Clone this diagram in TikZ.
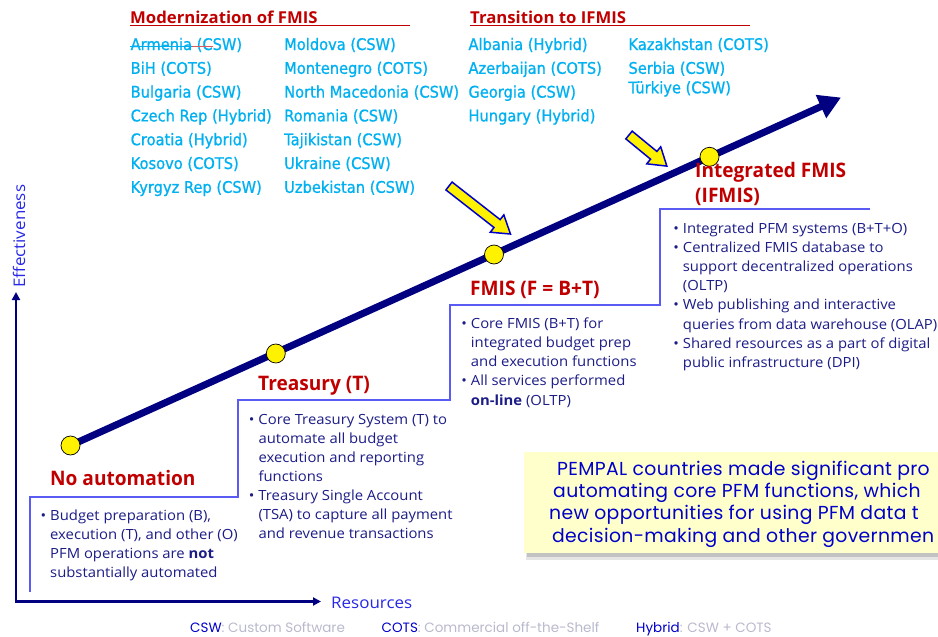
\documentclass[tikz,border=0pt]{standalone}
\usepackage{fontspec}
\setmainfont{Open Sans}[FakeStretch=1.06]
\newfontfamily\lblfont{Open Sans}[FakeStretch=0.955]
\newfontfamily\hdrfont{Open Sans}[FakeStretch=1.02]
\newfontfamily\ctryfont{DejaVu Sans}[FakeStretch=0.915,FakeBold=1]
\newfontfamily\popfont{Poppins}[LetterSpace=1.8]
\newfontfamily\legfont{Poppins}
\usetikzlibrary{arrows.meta}
\definecolor{navy}{RGB}{0,0,128}
\definecolor{bodyblue}{RGB}{28,28,135}
\definecolor{stagered}{RGB}{192,0,0}
\definecolor{ctrycyan}{RGB}{0,176,240}
\definecolor{axisblue}{RGB}{40,40,230}
\definecolor{stepblue}{RGB}{90,90,245}
\definecolor{boxblue}{RGB}{0,0,200}
\definecolor{boxfill}{RGB}{255,255,204}
\definecolor{leggrey}{RGB}{185,185,205}
\definecolor{arrowblue}{RGB}{0,0,204}
\definecolor{strikered}{RGB}{220,90,90}
\newcommand\lines[1]{\vtop{\halign{##\hfil\cr#1\crcr}}}
\newcommand\bul{\llap{\textbullet\hspace{4pt}}}
\begin{document}
\begin{tikzpicture}[x=1pt,y=-1pt,
  body/.style={inner sep=0pt, anchor=base west, text=bodyblue, font=\fontsize{14}{19.15}\selectfont},
  stagelbl/.style={inner sep=0pt, anchor=base west, text=stagered, font=\lblfont\bfseries\fontsize{20}{26}\selectfont},
  hdr/.style={inner sep=0pt, anchor=base west, text=stagered, font=\hdrfont\bfseries\fontsize{16.4}{20}\selectfont},
  ctry/.style={inner sep=0pt, anchor=base west, text=ctrycyan, font=\ctryfont\fontsize{16}{23.8}\selectfont},
  axislbl/.style={inner sep=0pt, anchor=base west, text=axisblue, font=\fontsize{16}{20}\selectfont},
  boxtxt/.style={inner sep=0pt, anchor=base west, text=boxblue, font=\popfont\fontsize{18.8}{22.4}\selectfont},
  leg/.style={inner sep=0pt, anchor=base west, font=\legfont\fontsize{13.5}{16}\selectfont},
  dot/.style={circle, fill=yellow, draw=black, line width=0.7pt, minimum size=19pt, inner sep=0pt},
  yarrow/.style={fill=yellow, draw=arrowblue, line width=1.5pt, line join=miter},
  stepline/.style={draw=stepblue, line width=1.3pt},
  axisline/.style={draw=navy, line width=2.6pt},
]
\useasboundingbox (0,0) rectangle (938,637);
\clip (0,0) rectangle (938,637);

% staircase outline of the stage boxes
\draw[stepline] (30,592) -- (30,497) -- (238,497) -- (238,400) -- (450,400)
  -- (450,305) -- (660,305) -- (660,209) -- (870,209);

% axes
\coordinate (origin) at (16,601.5);
\coordinate (ytip) at (16,292);
\coordinate (xtip) at (321,601.5);
\draw[axisline, line join=miter, {Triangle[length=8pt,width=8pt]}-{Triangle[length=8pt,width=8pt]}] (ytip) -- (origin) -- (xtip);
\node[axislbl] (resl) at (331,608) {Resources};
\node[axislbl, rotate=90] (effl) at (25,288) {Effectiveness};

% yellow message box
\fill[black!10] (525.5,454) rectangle (965,559.5);
\fill[black!24] (527,455) rectangle (965,556.5);
\fill[boxfill] (524,452) rectangle (965,553);
\node[boxtxt] (boxtext) at (549,475) {\lines{\hspace*{8pt}PEMPAL countries made significant pro\cr
  \hspace*{4pt}automating core PFM functions, which\cr
  new opportunities for using PFM data t\cr
  \hspace*{3pt}decision-making and other governmen}};

% main progress arrow
\coordinate (p1) at (70.5,445.5);
\coordinate (p2) at (275.8,353.5);
\coordinate (p3) at (494,254.5);
\coordinate (p4) at (709.5,156.8);
\coordinate (mtip) at (841,97.5);
\draw[navy, line width=7pt, -{Triangle[length=22pt,width=24pt]}] (p1) -- (mtip);
\node[dot] (d1) at (p1) {};
\node[dot] (d2) at (p2) {};
\node[dot] (d3) at (p3) {};
\node[dot] (d4) at (p4) {};

% yellow block arrows
\draw[yarrow, shift={(449,186)}, rotate=-38] (0,-5) -- (61,-5) -- (61,-11) -- (78,0) -- (61,11) -- (61,5) -- (0,5) -- cycle;
\draw[yarrow, shift={(629,135)}, rotate=-39.4] (0,-5) -- (32,-5) -- (32,-11) -- (49,0) -- (32,11) -- (32,5) -- (0,5) -- cycle;

% headers
\node[hdr] (hmod) at (130,23.3) {Modernization of FMIS};
\draw[stagered, line width=0.9pt] (130,25.6) -- (410,25.6);
\node[hdr] (htra) at (470,23.3) {Transition to IFMIS};
\draw[stagered, line width=0.9pt] (470,25.6) -- (750,25.6);

% country lists
\node[ctry] (c1) at (130.5,50) {\lines{Armenia (CSW)\cr BiH (COTS)\cr Bulgaria (CSW)\cr Czech Rep (Hybrid)\cr Croatia (Hybrid)\cr Kosovo (COTS)\cr Kyrgyz Rep (CSW)}};
\draw[ctrycyan, line width=1.1pt] (130,46.7) -- (192,46.7);
\draw[strikered, line width=1.1pt] (192,46.7) -- (213,46.7);
\node[ctry] (c2) at (284,50) {\lines{Moldova (CSW)\cr Montenegro (COTS)\cr North Macedonia (CSW)\cr Romania (CSW)\cr Tajikistan (CSW)\cr Ukraine (CSW)\cr Uzbekistan (CSW)}};
\node[ctry] (t1) at (468.3,50) {\lines{Albania (Hybrid)\cr Azerbaijan (COTS)\cr Georgia (CSW)\cr Hungary (Hybrid)}};
\node[ctry] (t2) at (628.3,50) {\lines{Kazakhstan (COTS)\cr Serbia (CSW)}};
\node[ctry] (t3) at (628.3,93.3) {Türkiye (CSW)};

% stage labels
\node[stagelbl] (s1) at (50,485) {No automation};
\node[stagelbl] (s2) at (258,390) {Treasury (T)};
\node[stagelbl] (s3) at (470,295) {FMIS (F = B+T)};
\node[stagelbl] (s4) at (695,177) {Integrated FMIS};
\node[stagelbl] (s4b) at (695,202.5) {(IFMIS)};

% stage descriptions
\node[body] (b1) at (50,520) {\lines{\bul Budget preparation (B),\cr execution (T), and other (O)\cr PFM operations are \textbf{not}\cr substantially automated}};
\node[body] (b2) at (258.3,424) {\lines{\bul Core Treasury System (T) to\cr automate all budget\cr execution and reporting\cr functions\cr \bul Treasury Single Account\cr (TSA) to capture all payment\cr and revenue transactions}};
\node[body] (b3) at (470.7,328.5) {\lines{\bul Core FMIS (B+T) for\cr integrated budget prep\cr and execution functions\cr \bul All services performed\cr \textbf{on-line} (OLTP)}};
\node[body] (b4) at (682.7,233.3) {\lines{\bul Integrated PFM systems (B+T+O)\cr \bul Centralized FMIS database to\cr support decentralized operations\cr (OLTP)\cr \bul Web publishing and interactive\cr queries from data warehouse (OLAP)\cr \bul Shared resources as a part of digital\cr public infrastructure (DPI)}};

% legend
\node[leg] (lcsw) at (190,632) {\textcolor{boxblue}{CSW}\textcolor{leggrey}{ : Custom Software}};
\node[leg] (lcots) at (381.5,632) {\textcolor{boxblue}{COTS}\textcolor{leggrey}{ : Commercial off-the-Shelf}};
\node[leg] (lhyb) at (636,632) {\textcolor{boxblue}{Hybrid}\textcolor{leggrey}{ : CSW + COTS}};
\end{tikzpicture}
\end{document}
